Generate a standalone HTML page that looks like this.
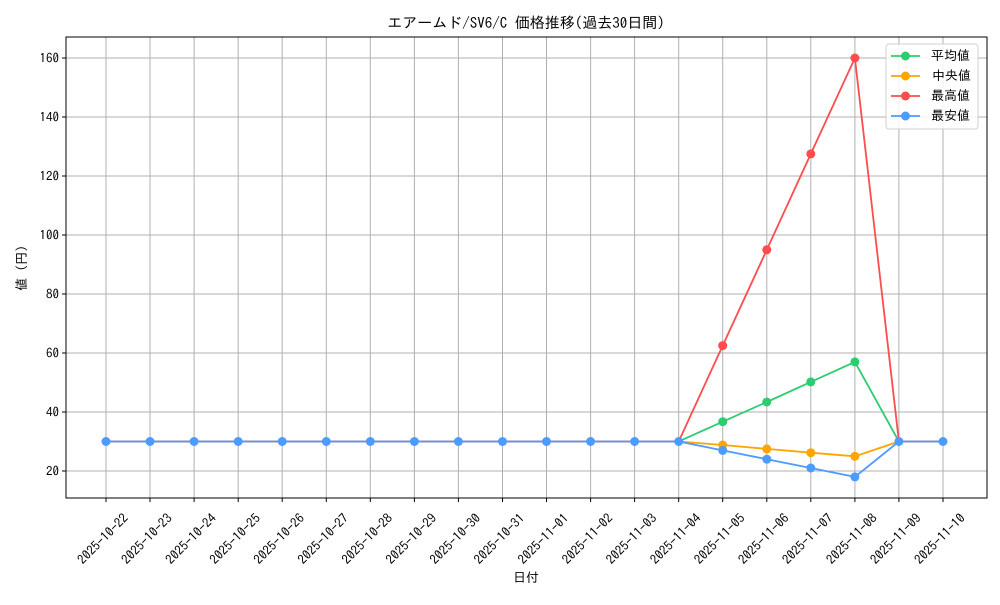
<!DOCTYPE html>
<html><head><meta charset="utf-8"><style>
body{margin:0;background:#fff}
text{font-family:"IPAGothic","Liberation Sans","Noto Sans CJK JP",sans-serif;fill:#000}
</style></head><body>
<svg width="1000" height="600" xmlns="http://www.w3.org/2000/svg">
<rect width="1000" height="600" fill="#fff"/>
<text x="526" y="28" font-size="15" text-anchor="middle">エアームド/SV6/C 価格推移(過去30日間)</text>
<g stroke="#b0b0b0" stroke-width="1">
<line x1="106" y1="37" x2="106" y2="498"/><line x1="150" y1="37" x2="150" y2="498"/><line x1="194.1" y1="37" x2="194.1" y2="498"/><line x1="238.2" y1="37" x2="238.2" y2="498"/><line x1="282.2" y1="37" x2="282.2" y2="498"/><line x1="326.3" y1="37" x2="326.3" y2="498"/><line x1="370.3" y1="37" x2="370.3" y2="498"/><line x1="414.4" y1="37" x2="414.4" y2="498"/><line x1="458.4" y1="37" x2="458.4" y2="498"/><line x1="502.5" y1="37" x2="502.5" y2="498"/><line x1="546.5" y1="37" x2="546.5" y2="498"/><line x1="590.6" y1="37" x2="590.6" y2="498"/><line x1="634.6" y1="37" x2="634.6" y2="498"/><line x1="678.7" y1="37" x2="678.7" y2="498"/><line x1="722.7" y1="37" x2="722.7" y2="498"/><line x1="766.8" y1="37" x2="766.8" y2="498"/><line x1="810.8" y1="37" x2="810.8" y2="498"/><line x1="854.9" y1="37" x2="854.9" y2="498"/><line x1="898.9" y1="37" x2="898.9" y2="498"/><line x1="943" y1="37" x2="943" y2="498"/>
<line x1="66" y1="471" x2="987" y2="471"/><line x1="66" y1="412" x2="987" y2="412"/><line x1="66" y1="353" x2="987" y2="353"/><line x1="66" y1="294" x2="987" y2="294"/><line x1="66" y1="235" x2="987" y2="235"/><line x1="66" y1="176" x2="987" y2="176"/><line x1="66" y1="117" x2="987" y2="117"/><line x1="66" y1="58" x2="987" y2="58"/>
</g>
<rect x="66" y="37" width="921" height="461" fill="none" stroke="#000" stroke-width="1"/>
<g font-size="13" text-anchor="end">
<text x="59" y="475.5">20</text><text x="59" y="416.5">40</text><text x="59" y="357.5">60</text><text x="59" y="298.5">80</text><text x="59" y="239.5">100</text><text x="59" y="180.5">120</text><text x="59" y="121.5">140</text><text x="59" y="62.5">160</text>
</g>
<g stroke="#000"><line x1="62" y1="471" x2="66" y2="471"/><line x1="62" y1="412" x2="66" y2="412"/><line x1="62" y1="353" x2="66" y2="353"/><line x1="62" y1="294" x2="66" y2="294"/><line x1="62" y1="235" x2="66" y2="235"/><line x1="62" y1="176" x2="66" y2="176"/><line x1="62" y1="117" x2="66" y2="117"/><line x1="62" y1="58" x2="66" y2="58"/>
<line x1="106" y1="498" x2="106" y2="502"/><line x1="150" y1="498" x2="150" y2="502"/><line x1="194.1" y1="498" x2="194.1" y2="502"/><line x1="238.2" y1="498" x2="238.2" y2="502"/><line x1="282.2" y1="498" x2="282.2" y2="502"/><line x1="326.3" y1="498" x2="326.3" y2="502"/><line x1="370.3" y1="498" x2="370.3" y2="502"/><line x1="414.4" y1="498" x2="414.4" y2="502"/><line x1="458.4" y1="498" x2="458.4" y2="502"/><line x1="502.5" y1="498" x2="502.5" y2="502"/><line x1="546.5" y1="498" x2="546.5" y2="502"/><line x1="590.6" y1="498" x2="590.6" y2="502"/><line x1="634.6" y1="498" x2="634.6" y2="502"/><line x1="678.7" y1="498" x2="678.7" y2="502"/><line x1="722.7" y1="498" x2="722.7" y2="502"/><line x1="766.8" y1="498" x2="766.8" y2="502"/><line x1="810.8" y1="498" x2="810.8" y2="502"/><line x1="854.9" y1="498" x2="854.9" y2="502"/><line x1="898.9" y1="498" x2="898.9" y2="502"/><line x1="943" y1="498" x2="943" y2="502"/>
</g>
<g font-size="13" text-anchor="middle">
<text transform="translate(106,542) rotate(-45)">2025-10-22</text><text transform="translate(150,542) rotate(-45)">2025-10-23</text><text transform="translate(194.1,542) rotate(-45)">2025-10-24</text><text transform="translate(238.2,542) rotate(-45)">2025-10-25</text><text transform="translate(282.2,542) rotate(-45)">2025-10-26</text><text transform="translate(326.3,542) rotate(-45)">2025-10-27</text><text transform="translate(370.3,542) rotate(-45)">2025-10-28</text><text transform="translate(414.4,542) rotate(-45)">2025-10-29</text><text transform="translate(458.4,542) rotate(-45)">2025-10-30</text><text transform="translate(502.5,542) rotate(-45)">2025-10-31</text><text transform="translate(546.5,542) rotate(-45)">2025-11-01</text><text transform="translate(590.6,542) rotate(-45)">2025-11-02</text><text transform="translate(634.6,542) rotate(-45)">2025-11-03</text><text transform="translate(678.7,542) rotate(-45)">2025-11-04</text><text transform="translate(722.7,542) rotate(-45)">2025-11-05</text><text transform="translate(766.8,542) rotate(-45)">2025-11-06</text><text transform="translate(810.8,542) rotate(-45)">2025-11-07</text><text transform="translate(854.9,542) rotate(-45)">2025-11-08</text><text transform="translate(898.9,542) rotate(-45)">2025-11-09</text><text transform="translate(943,542) rotate(-45)">2025-11-10</text>
</g>
<text x="526" y="582" font-size="13" text-anchor="middle">日付</text>
<text transform="translate(26,268) rotate(-90)" font-size="13" text-anchor="middle">値 (円)</text>
<g fill="none" stroke-width="1.8">
<polyline stroke="#2ecc71" points="106,441.5 678.7,441.5 722.7,421.7 766.8,402 810.8,381.9 854.9,361.9 898.9,441.5 943,441.5"/>
<polyline stroke="#ffa500" points="106,441.5 678.7,441.5 722.7,445 766.8,448.9 810.8,452.7 854.9,456.3 898.9,441.5 943,441.5"/>
<polyline stroke="#ff4c4c" points="106,441.5 678.7,441.5 722.7,345.6 766.8,249.8 810.8,153.9 854.9,58 898.9,441.5 943,441.5"/>
<polyline stroke="#4c9bff" points="106,441.5 678.7,441.5 722.7,450.4 766.8,459.2 810.8,468 854.9,476.9 898.9,441.5 943,441.5"/>
</g>
<g fill="#2ecc71"><circle cx="722.7" cy="421.7" r="4.5"/><circle cx="766.8" cy="402" r="4.5"/><circle cx="810.8" cy="381.9" r="4.5"/><circle cx="854.9" cy="361.9" r="4.5"/></g>
<g fill="#ffa500"><circle cx="722.7" cy="445" r="4.5"/><circle cx="766.8" cy="448.9" r="4.5"/><circle cx="810.8" cy="452.7" r="4.5"/><circle cx="854.9" cy="456.3" r="4.5"/></g>
<g fill="#ff4c4c"><circle cx="722.7" cy="345.6" r="4.5"/><circle cx="766.8" cy="249.8" r="4.5"/><circle cx="810.8" cy="153.9" r="4.5"/><circle cx="854.9" cy="58" r="4.5"/></g>
<g fill="#4c9bff">
<circle cx="106" cy="441.5" r="4.5"/><circle cx="150" cy="441.5" r="4.5"/><circle cx="194.1" cy="441.5" r="4.5"/><circle cx="238.2" cy="441.5" r="4.5"/><circle cx="282.2" cy="441.5" r="4.5"/><circle cx="326.3" cy="441.5" r="4.5"/><circle cx="370.3" cy="441.5" r="4.5"/><circle cx="414.4" cy="441.5" r="4.5"/><circle cx="458.4" cy="441.5" r="4.5"/><circle cx="502.5" cy="441.5" r="4.5"/><circle cx="546.5" cy="441.5" r="4.5"/><circle cx="590.6" cy="441.5" r="4.5"/><circle cx="634.6" cy="441.5" r="4.5"/><circle cx="678.7" cy="441.5" r="4.5"/><circle cx="898.9" cy="441.5" r="4.5"/><circle cx="943" cy="441.5" r="4.5"/>
<circle cx="722.7" cy="450.4" r="4.5"/><circle cx="766.8" cy="459.2" r="4.5"/><circle cx="810.8" cy="468" r="4.5"/><circle cx="854.9" cy="476.9" r="4.5"/>
</g>
<rect x="886" y="44" width="92" height="85" rx="3" fill="#fff" fill-opacity="0.85" stroke="#d0d0d0"/>
<g stroke-width="1.8">
<line x1="891" y1="56" x2="920" y2="56" stroke="#2ecc71"/><circle cx="905.5" cy="56" r="4.5" fill="#2ecc71"/>
<line x1="891" y1="76" x2="920" y2="76" stroke="#ffa500"/><circle cx="905.5" cy="76" r="4.5" fill="#ffa500"/>
<line x1="891" y1="96" x2="920" y2="96" stroke="#ff4c4c"/><circle cx="905.5" cy="96" r="4.5" fill="#ff4c4c"/>
<line x1="891" y1="116" x2="920" y2="116" stroke="#4c9bff"/><circle cx="905.5" cy="116" r="4.5" fill="#4c9bff"/>
</g>
<g font-size="13"><text x="931" y="60">平均値</text><text x="932" y="80">中央値</text><text x="931" y="100">最高値</text><text x="931" y="120">最安値</text></g>
</svg>
</body></html>
